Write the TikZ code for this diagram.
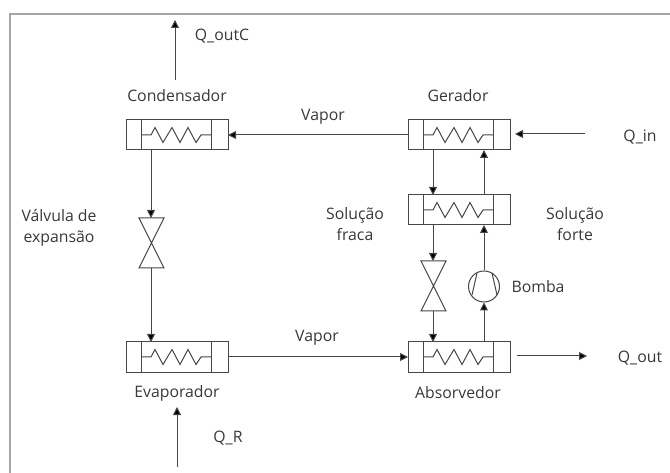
\documentclass[tikz,border=0pt]{standalone}
\usepackage{fontspec}
\setmainfont{Open Sans}
\usetikzlibrary{arrows.meta}
\definecolor{lin}{RGB}{70,70,70}
\definecolor{frm}{RGB}{165,165,165}
\tikzset{
 x=1pt,y=-1pt,
 conn/.style={draw=lin,line width=1pt,-{Triangle[length=8pt,width=8pt,fill=black]}},
 lbl/.style={font=\fontsize{15.8}{21}\selectfont,text=black!78,inner sep=0pt,align=center},
 partl/.style={draw=lin,line width=1pt},
 valveshape/.style={draw=lin,line width=1pt},
 hx/.pic={
  \draw[partl] (-51,-15) rectangle (51,15);
  \draw[partl] (-36,-15)--(-36,15) (34,-15)--(34,15);
  \draw[partl] (-36,0)--(-26,0)--(-22,-7.5)--(-14,7.5)--(-5,-7.5)--(3,7.5)--(11,-7.5)--(19,7.5)--(24,0)--(34,0);
 },
}
\begin{document}
\begin{tikzpicture}
\useasboundingbox (0,0) rectangle (670,473);
\draw[frm,line width=1.5pt] (10,473)--(10,14)--(670,14);
% exchangers
\pic at (177,135) {hx};
\pic at (459,135) {hx};
\pic at (459,210) {hx};
\pic at (177,357) {hx};
\pic at (459,357) {hx};
% valves
\draw[valveshape] (139,218)--(164,218)--(139,268)--(164,268)--cycle;
\draw[valveshape] (421,261)--(446,261)--(421,311)--(446,311)--cycle;
% pump
\node[draw=lin,line width=1pt,circle,minimum size=31pt,inner sep=0pt] (pump) at (484,286.5) {};
\draw[partl] (472,295)--(477,273) (497,295)--(492,273);
% coordinates
\coordinate (c1) at (175,80); \coordinate (c2) at (175,20);
\coordinate (c3) at (408,135); \coordinate (c4) at (228,135);
\coordinate (c5) at (151,150); \coordinate (c6) at (151,218);
\coordinate (c7) at (151,268); \coordinate (c8) at (151,342);
\coordinate (c9) at (228,357); \coordinate (c10) at (408,357);
\coordinate (c11) at (433,150); \coordinate (c12) at (433,195);
\coordinate (c13) at (433,225); \coordinate (c14) at (433,261);
\coordinate (c15) at (433,311); \coordinate (c16) at (433,342);
\coordinate (c17) at (484,342); \coordinate (c18) at (484,225);
\coordinate (c19) at (484,195); \coordinate (c20) at (484,150);
\coordinate (c21) at (585,134); \coordinate (c22) at (515,134);
\coordinate (c23) at (517,356); \coordinate (c24) at (587,356);
\coordinate (c25) at (177,467); \coordinate (c26) at (177,407);
\draw[conn] (c1)--(c2);
\draw[conn] (c3)--(c4);
\draw[conn] (c5)--(c6);
\draw[conn] (c7)--(c8);
\draw[conn] (c9)--(c10);
\draw[conn] (c11)--(c12);
\draw[conn] (c13)--(c14);
\draw[conn] (c15)--(c16);
\draw[conn] (c17)--(pump.south);
\draw[conn] (pump.north)--(c18);
\draw[conn] (c19)--(c20);
\draw[conn] (c21)--(c22);
\draw[conn] (c23)--(c24);
\draw[conn] (c25)--(c26);
% labels
\node[lbl] (t1) at (222,36) {Q\_outC};
\node[lbl] (t2) at (177,96) {Condensador};
\node[lbl] (t3) at (323,117) {Vapor};
\node[lbl] (t4) at (458,96) {Gerador};
\node[lbl] (t5) at (640,137) {Q\_in};
\node[lbl] (t6) at (355,224) {Solução\\fraca};
\node[lbl] (t7) at (575,224) {Solução\\forte};
\node[lbl] (t8) at (538,287) {Bomba};
\node[lbl] (t9) at (59,228) {Válvula de\\expansão};
\node[lbl] (t10) at (317,338) {Vapor};
\node[lbl] (t11) at (177,393) {Evaporador};
\node[lbl] (t12) at (458,393) {Absorvedor};
\node[lbl] (t13) at (640,358) {Q\_out};
\node[lbl] (t14) at (228,438) {Q\_R};
\end{tikzpicture}
\end{document}
